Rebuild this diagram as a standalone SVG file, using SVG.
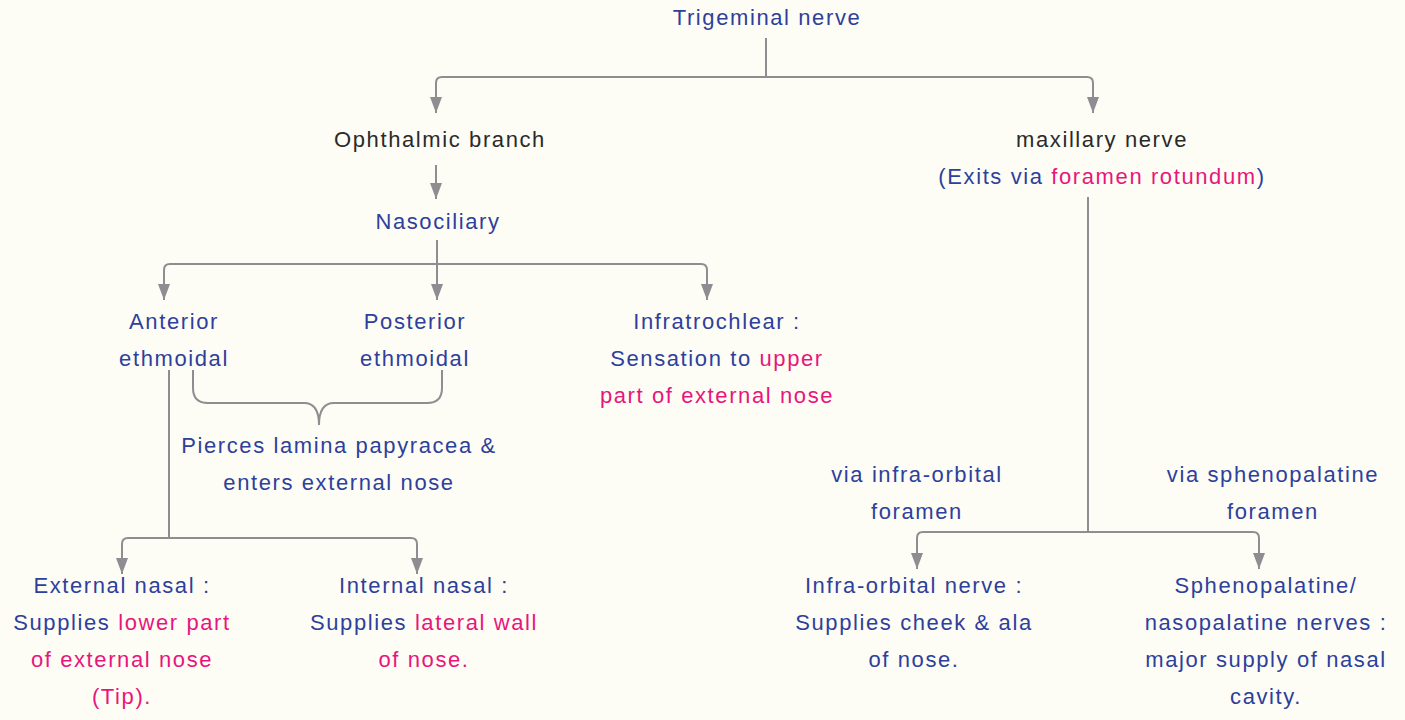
<svg xmlns="http://www.w3.org/2000/svg" width="1405" height="720" viewBox="0 0 1405 720">
  <defs>
    <marker id="arrow" viewBox="0 0 16 12" refX="16" refY="6" markerWidth="16" markerHeight="12" markerUnits="userSpaceOnUse" orient="auto">
      <path d="M0,0 L16,6 L0,12 z" fill="#8e8e92"/>
    </marker>
    <style>
      text { font-family: "Liberation Sans", Arial, sans-serif; font-size: 22px; letter-spacing: 1.6px; text-anchor: middle; }
      .blue { fill: #2e3f9c; }
      .pink { fill: #e8157d; }
      .dark { fill: #2a2a2a; }
      .link { fill: none; stroke: #8e8e92; stroke-width: 2; }
      .arr { marker-end: url(#arrow); }
    </style>
  </defs>

  <rect width="1405" height="720" fill="#fdfdf5"/>

  <!-- connectors -->
  <g id="connectors">
    <path class="link" d="M766,38 V77"/>
    <path class="link arr" d="M766,77 H442 Q436,77 436,83 V113"/>
    <path class="link arr" d="M766,77 H1087 Q1093,77 1093,83 V113"/>
    <path class="link arr" d="M436,165 V199"/>
    <path class="link arr" d="M437,240 V300"/>
    <path class="link arr" d="M437,264 H170 Q164,264 164,270 V300"/>
    <path class="link arr" d="M437,264 H701 Q707,264 707,270 V300"/>
    <path class="link" d="M193,370 V388 Q193,403 208,403 H304 Q319,403 319,425 Q319,403 334,403 H427 Q442,403 442,388 V370"/>
    <path class="link" d="M169,370 V538"/>
    <path class="link arr" d="M169,538 H128 Q122,538 122,544 V574"/>
    <path class="link arr" d="M169,538 H411 Q417,538 417,544 V574"/>
    <path class="link" d="M1088,197 V532"/>
    <path class="link arr" d="M1088,532 H923 Q917,532 917,538 V569"/>
    <path class="link arr" d="M1088,532 H1253 Q1259,532 1259,538 V569"/>
  </g>

  <!-- nodes -->
  <g id="trigeminal">
    <text class="blue" x="767" y="25">Trigeminal nerve</text>
  </g>
  <g id="ophthalmic">
    <text class="dark" x="440" y="147">Ophthalmic branch</text>
  </g>
  <g id="maxillary">
    <text class="dark" x="1102" y="147">maxillary nerve</text>
    <text class="blue" x="1102" y="184">(Exits via <tspan class="pink">foramen rotundum</tspan>)</text>
  </g>
  <g id="nasociliary">
    <text class="blue" x="438" y="229">Nasociliary</text>
  </g>
  <g id="anterior-ethmoidal">
    <text class="blue" x="174" y="329">Anterior</text>
    <text class="blue" x="174" y="366">ethmoidal</text>
  </g>
  <g id="posterior-ethmoidal">
    <text class="blue" x="415" y="329">Posterior</text>
    <text class="blue" x="415" y="366">ethmoidal</text>
  </g>
  <g id="infratrochlear">
    <text class="blue" x="717" y="329">Infratrochlear :</text>
    <text class="blue" x="717" y="366">Sensation to <tspan class="pink">upper</tspan></text>
    <text class="pink" x="717" y="403">part of external nose</text>
  </g>
  <g id="ethmoidal-note">
    <text class="blue" x="339" y="453">Pierces lamina papyracea &amp;</text>
    <text class="blue" x="339" y="490">enters external nose</text>
  </g>
  <g id="external-nasal">
    <text class="blue" x="122" y="593">External nasal :</text>
    <text class="blue" x="122" y="630">Supplies <tspan class="pink">lower part</tspan></text>
    <text class="pink" x="122" y="667">of external nose</text>
    <text class="pink" x="122" y="704">(Tip).</text>
  </g>
  <g id="internal-nasal">
    <text class="blue" x="424" y="593">Internal nasal :</text>
    <text class="blue" x="424" y="630">Supplies <tspan class="pink">lateral wall</tspan></text>
    <text class="pink" x="424" y="667">of nose.</text>
  </g>
  <g id="via-infraorbital">
    <text class="blue" x="917" y="482">via infra-orbital</text>
    <text class="blue" x="917" y="519">foramen</text>
  </g>
  <g id="via-sphenopalatine">
    <text class="blue" x="1273" y="482">via sphenopalatine</text>
    <text class="blue" x="1273" y="519">foramen</text>
  </g>
  <g id="infraorbital-nerve">
    <text class="blue" x="914" y="593">Infra-orbital nerve :</text>
    <text class="blue" x="914" y="630">Supplies cheek &amp; ala</text>
    <text class="blue" x="914" y="667">of nose.</text>
  </g>
  <g id="sphenopalatine-nerves">
    <text class="blue" x="1266" y="593">Sphenopalatine/</text>
    <text class="blue" x="1266" y="630">nasopalatine nerves :</text>
    <text class="blue" x="1266" y="667">major supply of nasal</text>
    <text class="blue" x="1266" y="704">cavity.</text>
  </g>
</svg>
